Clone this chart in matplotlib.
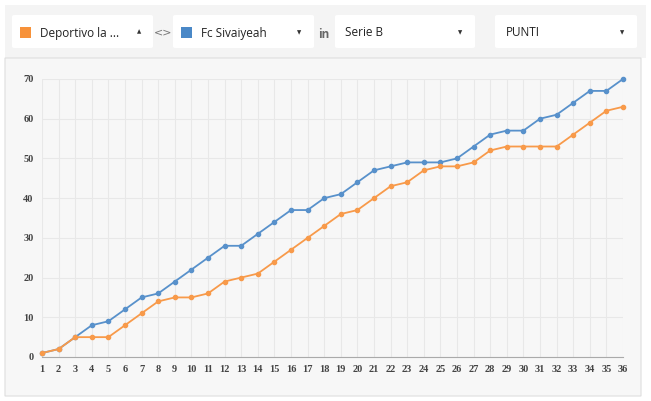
import numpy as np
import matplotlib.pyplot as plt
from matplotlib.patches import FancyBboxPatch, Rectangle

# match days and points per team
giornate = list(range(1, 37))
deportivo = [1, 2, 5, 5, 5, 8, 11, 14, 15, 15, 16, 19, 20, 21, 24, 27, 30, 33,
             36, 37, 40, 43, 44, 47, 48, 48, 49, 52, 53, 53, 53, 53, 56, 59, 62, 63]
sivaiyeah = [1, 2, 5, 8, 9, 12, 15, 16, 19, 22, 25, 28, 28, 31, 34, 37, 37, 40,
             41, 44, 47, 48, 49, 49, 49, 50, 53, 56, 57, 57, 60, 61, 64, 67, 67, 70]
y_ticks = [0, 10, 20, 30, 40, 50, 60, 70]

team_a = 'Deportivo la ...'
team_b = 'Fc Sivaiyeah'
league = 'Serie B'
metric = 'PUNTI'

orange = '#f89a4a'
blue = '#5891cb'

W, H = 651, 401
fig = plt.figure(figsize=(W / 100, H / 100), dpi=100)
fig.patch.set_facecolor('white')


def px(x, y):
    # pixel coords (top-left origin) -> figure fraction
    return x / W, 1 - y / H


def box(x0, y0, x1, y1, fc, ec='none', lw=0, rounding=0.0):
    fx0, fy1 = px(x0, y0)
    fx1, fy0 = px(x1, y1)
    p = FancyBboxPatch((fx0, fy0), fx1 - fx0, fy1 - fy0,
                       boxstyle=f'round,pad=0,rounding_size={rounding}',
                       transform=fig.transFigure, fc=fc, ec=ec, lw=lw, zorder=0)
    fig.patches.append(p)


# header strip and chart panel
box(5, 5, 646, 58, '#f4f4f4')
box(5, 58, 641, 396, '#f7f7f7', ec='#dedede', lw=0.8)

# dropdown boxes
for x0, x1 in [(12, 153), (173, 314), (335, 475), (495, 637)]:
    box(x0, 15, x1, 48, 'white', rounding=0.004)

# colour swatches
for x0, c in [(20, '#f7923a'), (181, '#4a88c7')]:
    fx0, fy1 = px(x0, 27)
    fx1, fy0 = px(x0 + 11, 38)
    fig.patches.append(Rectangle((fx0, fy0), fx1 - fx0, fy1 - fy0, fc=c, ec='none',
                                 transform=fig.transFigure, zorder=1))

hdr = dict(fontsize=8.5, family='Open Sans', color='#222222', va='center', ha='left')
fig.text(*px(40, 33), team_a, **hdr)
fig.text(*px(201, 33), team_b, **hdr)
fig.text(*px(345, 33), league, **hdr)
fig.text(*px(506, 33), metric, **hdr)
fig.text(*px(163, 32), '<>', fontsize=8, family='DejaVu Sans', color='#777777',
         ha='center', va='center')
fig.text(*px(324, 34), 'in', fontsize=8.5, family='Open Sans', color='#666666',
         fontweight='bold', ha='center', va='center')
fig.text(*px(139, 32), '\u25b2', fontsize=4, color='#333333', ha='center', va='center')
for ax_x in [299, 460, 622]:
    fig.text(*px(ax_x, 33), '\u25bc', fontsize=4, color='#333333', ha='center', va='center')

# chart
l, t = px(42, 79)
r, b = px(623, 357)
ax = fig.add_axes([l, b, r - l, t - b], zorder=5)
ax.set_facecolor('none')
ax.plot(giornate, sivaiyeah, color=blue, lw=1.3, marker='o', ms=3, zorder=3, clip_on=False)
ax.plot(giornate, deportivo, color=orange, lw=1.3, marker='o', ms=3, zorder=3, clip_on=False)

ax.set_xlim(1, 36)
ax.set_ylim(0, 70)
ax.set_xticks(giornate)
ax.set_yticks(y_ticks)
ax.grid(True, color='#e8e8e8', lw=0.8)
ax.set_axisbelow(True)
for s in ['top', 'right', 'left']:
    ax.spines[s].set_visible(False)
ax.spines['bottom'].set_color('#aaaaaa')
ax.spines['bottom'].set_linewidth(0.8)
ax.tick_params(length=0, labelsize=7.5, labelcolor='#444444', pad=6)
for lab in ax.get_xticklabels() + ax.get_yticklabels():
    lab.set_family('Liberation Serif')
    lab.set_fontweight('bold')

fig.savefig('out.png', dpi=100, facecolor=fig.get_facecolor())
